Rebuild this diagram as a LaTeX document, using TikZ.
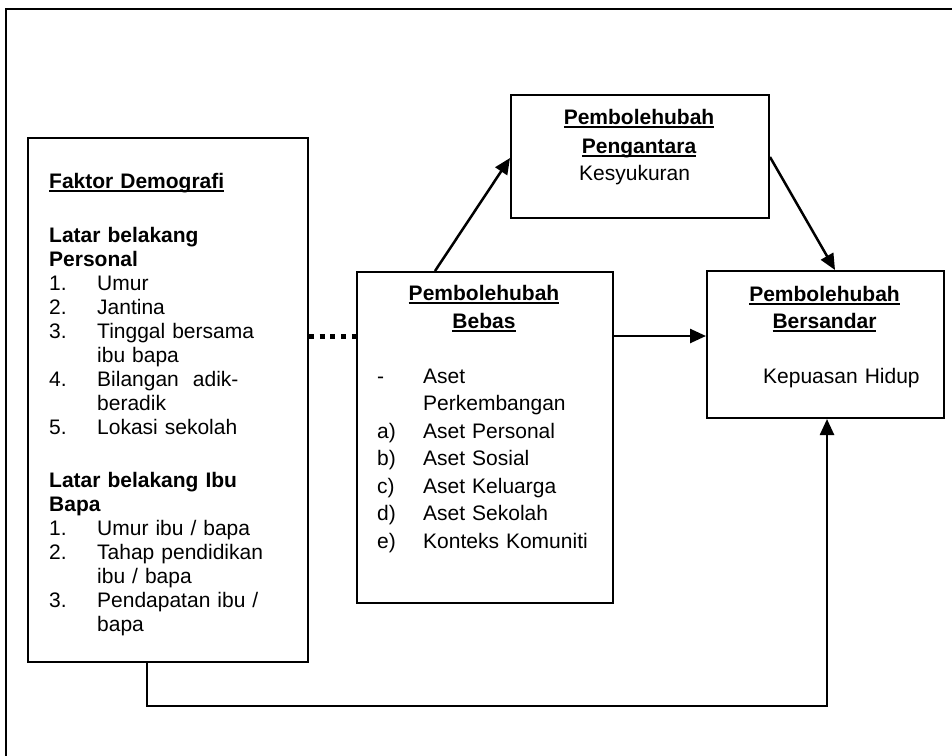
\documentclass[tikz,border=0pt]{standalone}
\usepackage{fontspec}
\setmainfont{Liberation Sans}
\usetikzlibrary{arrows.meta, positioning}

\newsavebox{\undlbox}
\newcommand{\undl}[1]{\leavevmode\sbox{\undlbox}{#1}\rlap{\rule[-3.8pt]{\wd\undlbox}{1.6pt}}\usebox{\undlbox}}
\newcommand{\num}[2][48pt]{\makebox[#1][l]{#2}}

\begin{document}
\begin{tikzpicture}[x=1pt, y=-1pt, >={Triangle[length=16pt,width=14pt]},
  box/.style={draw, rectangle, line width=2pt, inner sep=0pt, anchor=north west},
  txt/.style={inner sep=0pt, anchor=base west, align=left, font=\fontsize{21}{24}\selectfont},
  ttl/.style={inner sep=0pt, anchor=base, align=center, font=\bfseries\fontsize{21}{28}\selectfont},
  link/.style={->, line width=2.5pt},
  dotline/.style={line width=5pt, dash pattern=on 5pt off 5.7pt}]

  \useasboundingbox (0,0) rectangle (952,755);

  % outer frame
  \draw[line width=2.5pt] (970,9) -| (6,770);

  % boxes
  \node[box, minimum width=280, minimum height=524] (demo) at (27,137) {};
  \node[box, minimum width=256, minimum height=331] (bebas) at (356,271) {};
  \node[box, minimum width=258, minimum height=123] (med) at (510,94) {};
  \node[box, minimum width=237, minimum height=147] (dep) at (706,270) {};

  % texts
  \node[txt, text width=250] (demo text) at (49,188) {%
    \undl{\textbf{Faktor Demografi}}\\[30pt]
    \textbf{Latar belakang}\\
    \textbf{Personal}\\
    \num{1.}Umur\\
    \num{2.}Jantina\\
    \num{3.}Tinggal bersama\\
    \num{}ibu bapa\\
    \num{4.}Bilangan\ \ adik-\\
    \num{}beradik\\
    \num{5.}Lokasi sekolah\\[29pt]
    \textbf{Latar belakang Ibu}\\
    \textbf{Bapa}\\
    \num{1.}Umur ibu / bapa\\
    \num{2.}Tahap pendidikan\\
    \num{}ibu / bapa\\
    \num{3.}Pendapatan ibu /\\
    \num{}bapa};

  \node[ttl, text width=240] (bebas title) at (484,300) {\undl{Pembolehubah}\\\undl{Bebas}};
  \node[txt, text width=230, font=\fontsize{21}{27.5}\selectfont] (bebas text) at (377,383) {%
    \num[46pt]{-}Aset\\
    \num[46pt]{}Perkembangan\\
    \num[46pt]{a)}Aset Personal\\
    \num[46pt]{b)}Aset Sosial\\
    \num[46pt]{c)}Aset Keluarga\\
    \num[46pt]{d)}Aset Sekolah\\
    \num[46pt]{e)}Konteks Komuniti};

  \node[ttl, text width=240, font=\bfseries\fontsize{21}{29}\selectfont] (med title) at (639,124) {\undl{Pembolehubah}\\\undl{Pengantara}};
  \node[txt, text width=150] (med text) at (579,180) {Kesyukuran};

  \node[ttl, text width=230, font=\bfseries\fontsize{21}{27}\selectfont] (dep title) at (824.5,301) {\undl{Pembolehubah}\\\undl{Bersandar}};
  \node[txt, text width=170] (dep text) at (763,383) {Kepuasan Hidup};

  % connectors
  \coordinate (dot) at ([yshift=-199]demo.north east);
  \draw[dotline] (dot) -- (dot -| bebas.west);

  \draw[link] ([xshift=79]bebas.north west) -- ([yshift=-64]med.north west);
  \draw[link] ([yshift=-63]med.north east) -- ([xshift=129]dep.north west);

  \coordinate (h) at ([yshift=-65]bebas.north east);
  \draw[link] (h) -- (h -| dep.west);

  \coordinate (bl) at (147,706);
  \coordinate (br) at (827,706);
  \draw[link] (demo.south -| bl) -- (bl) -- (br) -- (dep.south -| br);
\end{tikzpicture}
\end{document}
